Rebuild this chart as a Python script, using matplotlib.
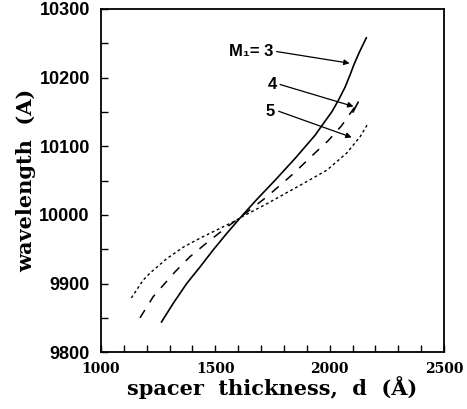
import numpy as np
import matplotlib.pyplot as plt
from matplotlib.ticker import MultipleLocator

# M1 = 3 (solid)
d3 = [1265, 1316, 1375, 1433, 1491, 1550, 1615, 1680, 1760, 1848, 1892, 1936, 1972, 2009, 2038, 2067,
      2089, 2106, 2128, 2160]
w3 = [9844, 9871, 9900, 9924, 9949, 9973, 9998, 10022, 10050, 10082, 10099, 10116, 10133, 10150, 10167, 10186,
      10204, 10219, 10236, 10258]

# M1 = 4 (dashed)
d4 = [1171, 1229, 1324, 1389, 1469, 1542, 1615, 1724, 1841, 1935, 1993, 2052, 2090, 2124]
w4 = [9850, 9881, 9917, 9939, 9961, 9980, 9998, 10026, 10060, 10090, 10108, 10130, 10148, 10164]

# M1 = 5 (dotted)
d5 = [1133, 1185, 1214, 1287, 1360, 1433, 1506, 1579, 1615, 1724, 1870, 1987, 2074, 2133, 2169]
w5 = [9879, 9905, 9915, 9936, 9953, 9966, 9978, 9990, 9997, 10016, 10043, 10065, 10090, 10114, 10134]

labels = ['M\u2081= 3', '4', '5']
label_xy = [(1768, 10238), (1783, 10190), (1777, 10151)]
arrow_tip = [(2087, 10221), (2104, 10158), (2096, 10113)]

fig = plt.figure(figsize=(4.67, 4.09), dpi=100)
ax = fig.add_axes([0.216, 0.139, 0.735, 0.839])

ax.plot(d3, w3, color='black', lw=1.2, ls='-')
ax.plot(d4, w4, color='black', lw=1.1, ls=(0, (6, 6)))
ax.plot(d5, w5, color='black', lw=1.0, ls=(0, (2, 2)))
# last dash of the M1=4 curve
ax.plot([2102, 2124], [10150, 10164], color='black', lw=1.2)

for lab, (tx, ty), (ax_, ay) in zip(labels, label_xy, arrow_tip):
    ax.annotate('', xy=(ax_, ay), xytext=(tx, ty),
                arrowprops=dict(arrowstyle='-|>', color='black', lw=0.9,
                                mutation_scale=8, shrinkA=0, shrinkB=0))
    ax.text(tx - 15, ty, lab, ha='right', va='center', fontsize=12,
            fontweight='bold', family=['Liberation Sans', 'DejaVu Sans'])

ax.set_xlim(1000, 2500)
ax.set_ylim(9800, 10300)
ax.set_xticks([1000, 1500, 2000, 2500])
ax.set_yticks([9800, 9900, 10000, 10100, 10200, 10300])
ax.xaxis.set_minor_locator(MultipleLocator(100))
ax.yaxis.set_minor_locator(MultipleLocator(50))
ax.tick_params(which='both', direction='in', length=5, width=1, top=False, right=False)
ax.tick_params(axis='x', pad=7)
ax.tick_params(axis='y', pad=8)
for s in ax.spines.values():
    s.set_linewidth(1.3)

for t in ax.get_xticklabels():
    t.set_family('DejaVu Serif')
    t.set_fontweight('bold')
    t.set_fontsize(10)
for t in ax.get_yticklabels():
    t.set_family('Liberation Sans')
    t.set_fontweight('bold')
    t.set_fontsize(13)

ax.set_xlabel('spacer  thickness,  d  (Å)', family='DejaVu Serif', fontweight='bold', fontsize=15, labelpad=0)
ax.set_ylabel('wavelength  (A)', family='DejaVu Serif', fontweight='bold', fontsize=15, labelpad=2)

fig.savefig('out.png', dpi=100)
